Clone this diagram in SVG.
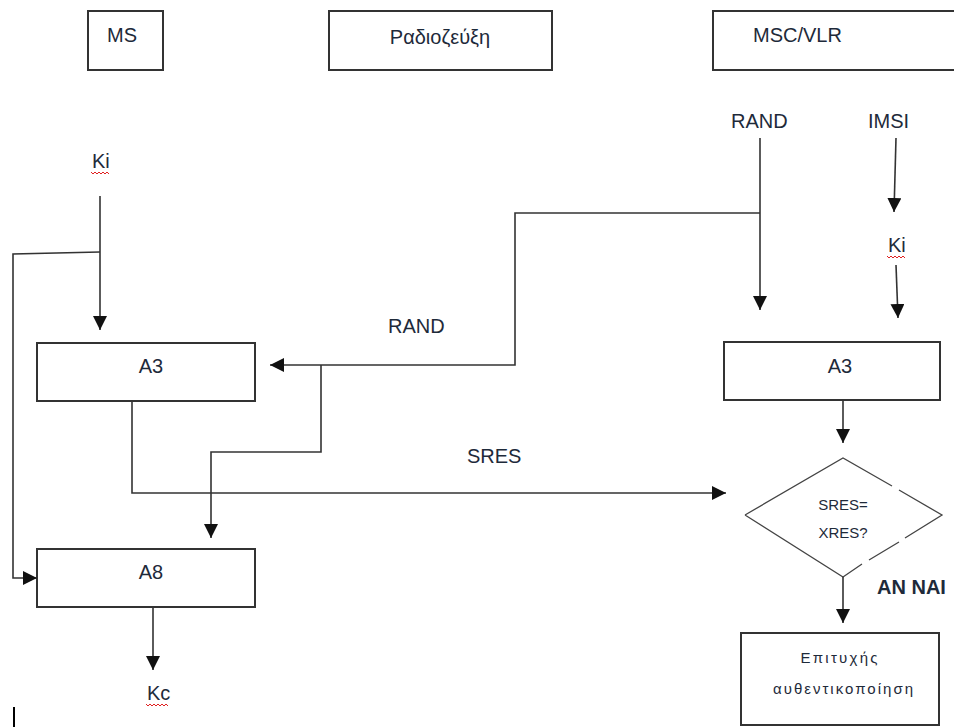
<svg xmlns="http://www.w3.org/2000/svg" width="954" height="727" viewBox="0 0 954 727">
  <style>
    .box { fill: #fff; stroke: #333; stroke-width: 2; }
    .wire { fill: none; stroke: #333; stroke-width: 1.6; }
    .dia { fill: none; stroke: #444; stroke-width: 1.3; }
    .lbl { font-family: "Liberation Sans", Arial, sans-serif; font-size: 20px; fill: #1e2a3a; }
    .sm { font-family: "Liberation Sans", Arial, sans-serif; font-size: 15px; fill: #1e2a3a; }
    .xs { font-family: "Liberation Sans", Arial, sans-serif; font-size: 15px; fill: #1e2a3a; }
    .bold { font-weight: bold; }
    .squig { fill: none; stroke: #e02020; stroke-width: 1; }
  </style>
  <defs>
    <marker id="arrow" markerUnits="userSpaceOnUse" markerWidth="14" markerHeight="14" viewBox="0 0 14 14" refX="14" refY="7" orient="auto">
      <path d="M0,0 L14,7 L0,14 Z" fill="#111"/>
    </marker>
  </defs>
  <rect width="954" height="727" fill="#fff"/>

  <!-- column headers -->
  <g id="ms">
    <rect class="box" x="88" y="11" width="75" height="59"/>
    <text class="lbl" x="107" y="42">MS</text>
  </g>
  <g id="radio">
    <rect class="box" x="329" y="11" width="223" height="59"/>
    <text class="lbl" x="440" y="44" text-anchor="middle">Ραδιοζεύξη</text>
  </g>
  <g id="msc">
    <rect class="box" x="713" y="11" width="250" height="59"/>
    <text class="lbl" x="753" y="42">MSC/VLR</text>
  </g>

  <!-- inputs -->
  <g id="ki-ms">
    <text class="lbl" x="92" y="168">Ki</text>
    <path class="squig" d="M91,172 l2,2 l2,-2 l2,2 l2,-2 l2,2 l2,-2 l2,2 l2,-2 l2,2"/>
  </g>
  <g id="rand-msc"><text class="lbl" x="731" y="128">RAND</text></g>
  <g id="imsi"><text class="lbl" x="868" y="128">IMSI</text></g>
  <g id="ki-msc">
    <text class="lbl" x="888" y="252">Ki</text>
    <path class="squig" d="M887,256 l2,2 l2,-2 l2,2 l2,-2 l2,2 l2,-2 l2,2 l2,-2 l2,2"/>
  </g>

  <!-- MS side algorithms -->
  <g id="a3-ms">
    <rect class="box" x="37" y="343" width="218" height="58"/>
    <text class="lbl" x="151" y="373" text-anchor="middle">A3</text>
  </g>
  <g id="a8-ms">
    <rect class="box" x="37" y="549" width="218" height="58"/>
    <text class="lbl" x="151" y="579" text-anchor="middle">A8</text>
  </g>
  <g id="kc">
    <text class="lbl" x="147" y="700">Kc</text>
    <path class="squig" d="M146,704 l2,2 l2,-2 l2,2 l2,-2 l2,2 l2,-2 l2,2 l2,-2 l2,2 l2,-2 l2,2"/>
  </g>

  <!-- MSC side -->
  <g id="a3-msc">
    <rect class="box" x="724" y="342" width="216" height="58"/>
    <text class="lbl" x="840" y="373" text-anchor="middle">A3</text>
  </g>
  <g id="compare">
    <path class="dia" d="M745,515 L843,458 L892,486 M899,490 L942,515 L905,538 M899,542 L869,560 M862,564 L843,577 L745,515"/>
    <text class="sm" x="843" y="510" text-anchor="middle">SRES=</text>
    <text class="sm" x="843" y="538" text-anchor="middle">XRES?</text>
  </g>
  <g id="success">
    <rect class="box" x="741" y="633" width="198" height="92"/>
    <text class="xs" x="839" y="663" text-anchor="middle" textLength="77" lengthAdjust="spacing">Επιτυχής</text>
    <text class="xs" x="843" y="694" text-anchor="middle" textLength="140" lengthAdjust="spacing">αυθεντικοποίηση</text>
  </g>

  <!-- edge labels -->
  <g id="labels">
    <text class="lbl" x="388" y="333">RAND</text>
    <text class="lbl" x="467" y="463">SRES</text>
    <text class="lbl bold" x="877" y="594">AN NAI</text>
  </g>

  <!-- connectors -->
  <g id="connectors">
    <path class="wire" d="M100,196 L100,330" marker-end="url(#arrow)"/>
    <path class="wire" d="M100,252 L13,254 L13,578 L37,578" marker-end="url(#arrow)"/>
    <path class="wire" d="M760,138 L760,310" marker-end="url(#arrow)"/>
    <path class="wire" d="M760,213 L515,213 L515,365 L270,365" marker-end="url(#arrow)"/>
    <path class="wire" d="M321,365 L321,452 L211,452 L211,538" marker-end="url(#arrow)"/>
    <path class="wire" d="M896,138 L894,212" marker-end="url(#arrow)"/>
    <path class="wire" d="M896,265 L898,318" marker-end="url(#arrow)"/>
    <path class="wire" d="M132,401 L132,493 L726,493" marker-end="url(#arrow)"/>
    <path class="wire" d="M153,607 L153,670" marker-end="url(#arrow)"/>
    <path class="wire" d="M843,400 L843,443" marker-end="url(#arrow)"/>
    <path class="wire" d="M843,577 L843,623" marker-end="url(#arrow)"/>
  </g>

  <!-- text cursor -->
  <rect x="13" y="707" width="2" height="20" fill="#000"/>
</svg>
